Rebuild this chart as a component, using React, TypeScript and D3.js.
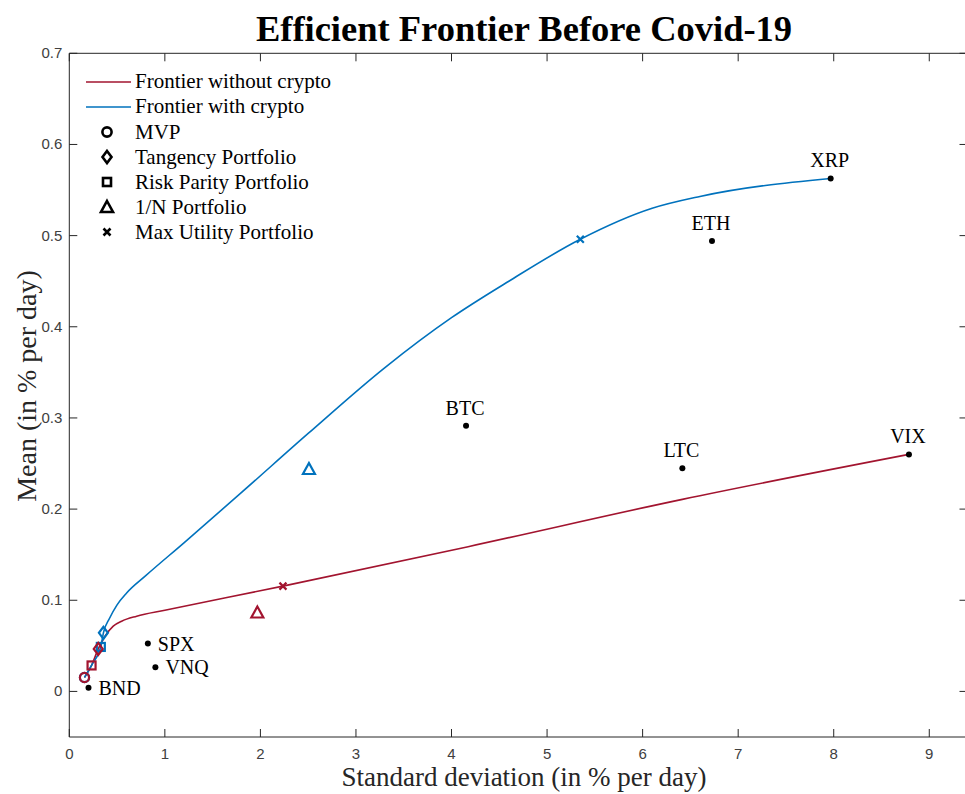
import React from "react";
import * as d3 from "d3";

// asset points (std dev %, mean %)
const assetNames = ["BND", "SPX", "VNQ", "BTC", "LTC", "ETH", "XRP", "VIX"];
const assetSigma = [0.201, 0.822, 0.901, 4.152, 6.416, 6.726, 7.968, 8.787];
const assetMu = [0.004, 0.0525, 0.0265, 0.2915, 0.2447, 0.4942, 0.5627, 0.26];
const assetLabelSide = ["right", "right", "right", "top", "top", "top", "top", "top"];

// frontier without crypto
const redSigma = [0.159, 0.233, 0.303, 0.37, 0.46, 0.548, 0.705, 1.0, 2.236, 4.174, 6.416, 8.787];
const redMu = [0.0153, 0.0285, 0.0466, 0.06, 0.0716, 0.077, 0.0825, 0.089, 0.1155, 0.1588, 0.2107, 0.26];

// frontier with crypto
const blueSigma = [0.159, 0.24, 0.33, 0.357, 0.42, 0.5, 0.6, 0.8, 1.2, 1.8, 2.5, 3.3, 4.0, 4.6, 5.348, 6.1, 6.6, 7.968];
const blueMu = [0.0153, 0.03, 0.0488, 0.0643, 0.08, 0.095, 0.108, 0.127, 0.163, 0.218, 0.283, 0.355, 0.41, 0.45, 0.496, 0.53, 0.543, 0.5627];

// portfolios: mvp, tangency, risk parity, 1/N, max utility
const portfolioKinds = ["circle", "diamond", "square", "triangle", "cross"];
const portfolioLabels = ["MVP", "Tangency Portfolio", "Risk Parity Portfolio", "1/N Portfolio", "Max Utility Portfolio"];
const redPortSigma = [0.159, 0.303, 0.233, 1.968, 2.236];
const redPortMu = [0.0153, 0.0466, 0.0285, 0.0866, 0.1155];
const bluePortSigma = [0.159, 0.357, 0.33, 2.508, 5.348];
const bluePortMu = [0.0153, 0.0643, 0.0488, 0.244, 0.496];

const xTicks = [0, 1, 2, 3, 4, 5, 6, 7, 8, 9];
const yTicks = [0, 0.1, 0.2, 0.3, 0.4, 0.5, 0.6, 0.7];

const RED = "#A2142F";
const BLUE = "#0072BD";
const AXIS = "#262626";
const SERIF = "'Liberation Serif', 'Times New Roman', serif";
const SANS = "'Liberation Sans', Arial, sans-serif";

const W = 965;
const H = 794;
const left = 69.3;
const right = 967.5;
const top = 53.3;
const bottom = 737;

const x = d3.scaleLinear().domain([0, 9.4]).range([left, right]);
const y = d3.scaleLinear().domain([-0.05, 0.7]).range([bottom, top]);

const Marker = ({ kind, cx, cy, color, sw = 2.2 }: { kind: string; cx: number; cy: number; color: string; sw?: number }) => {
  if (kind === "circle") return <circle cx={cx} cy={cy} r={4.6} fill="none" stroke={color} strokeWidth={sw} />;
  if (kind === "diamond")
    return <path d={`M${cx},${cy - 6}L${cx + 4.5},${cy}L${cx},${cy + 6}L${cx - 4.5},${cy}Z`} fill="none" stroke={color} strokeWidth={sw} />;
  if (kind === "square") return <rect x={cx - 4} y={cy - 4} width={8} height={8} fill="none" stroke={color} strokeWidth={sw} />;
  if (kind === "triangle")
    return <path d={`M${cx},${cy - 6}L${cx + 6},${cy + 5}L${cx - 6},${cy + 5}Z`} fill="none" stroke={color} strokeWidth={sw} />;
  return <path d={`M${cx - 3.5},${cy - 3.5}L${cx + 3.5},${cy + 3.5}M${cx - 3.5},${cy + 3.5}L${cx + 3.5},${cy - 3.5}`} stroke={color} strokeWidth={sw} />;
};

export default function App() {
  const redPath = d3
    .line<number>()
    .x((_, i) => x(redSigma[i]))
    .y((_, i) => y(redMu[i]))
    .curve(d3.curveMonotoneX)(redSigma);
  const bluePath = d3
    .line<number>()
    .x((_, i) => x(blueSigma[i]))
    .y((_, i) => y(blueMu[i]))
    .curve(d3.curveMonotoneX)(blueSigma);

  return (
    <svg width={W} height={H} style={{ position: "absolute", left: 0, top: 0, background: "#fff" }}>
      <rect x={0} y={0} width={W} height={H} fill="#fff" />

      {/* axes box */}
      <g stroke={AXIS} strokeWidth={1} fill="none">
        <line x1={left} x2={right} y1={bottom} y2={bottom} />
        <line x1={left} x2={right} y1={top} y2={top} />
        <line x1={left} x2={left} y1={top} y2={bottom} />
        <line x1={right} x2={right} y1={top} y2={bottom} />
        {xTicks.map((t) => (
          <g key={"xt" + t}>
            <line x1={x(t)} x2={x(t)} y1={bottom} y2={bottom - 8} />
            <line x1={x(t)} x2={x(t)} y1={top} y2={top + 8} />
          </g>
        ))}
        {yTicks.map((t) => (
          <g key={"yt" + t}>
            <line x1={left} x2={left + 8} y1={y(t)} y2={y(t)} />
            <line x1={right} x2={right - 8} y1={y(t)} y2={y(t)} />
          </g>
        ))}
      </g>
      {xTicks.map((t) => (
        <text key={"xl" + t} x={x(t)} y={bottom + 22} textAnchor="middle" fontFamily={SANS} fontSize={15} fill="#404040">
          {t}
        </text>
      ))}
      {yTicks.map((t) => (
        <text key={"yl" + t} x={left - 7} y={y(t) + 5} textAnchor="end" fontFamily={SANS} fontSize={15} fill="#404040">
          {t}
        </text>
      ))}

      {/* frontiers */}
      <path d={redPath || ""} fill="none" stroke={RED} strokeWidth={1.6} />
      <path d={bluePath || ""} fill="none" stroke={BLUE} strokeWidth={1.6} />

      {/* portfolios */}
      {portfolioKinds.map((k, i) => (
        <Marker key={"bp" + i} kind={k} cx={x(bluePortSigma[i])} cy={y(bluePortMu[i])} color={BLUE} />
      ))}
      {portfolioKinds.map((k, i) => (
        <Marker key={"rp" + i} kind={k} cx={x(redPortSigma[i])} cy={y(redPortMu[i])} color={RED} />
      ))}

      {/* assets */}
      {assetNames.map((n, i) => {
        const cx = x(assetSigma[i]);
        const cy = y(assetMu[i]);
        const side = assetLabelSide[i];
        return (
          <g key={n}>
            <circle cx={cx} cy={cy} r={3} fill="#000" />
            <text
              x={side === "right" ? cx + 10 : cx - 1}
              y={side === "right" ? cy + 7 : cy - 11}
              textAnchor={side === "right" ? "start" : "middle"}
              fontFamily={SERIF}
              fontSize={20}
              fill="#000"
            >
              {n}
            </text>
          </g>
        );
      })}

      {/* legend */}
      <g fontFamily={SERIF} fontSize={21} fill="#000">
        <line x1={86} x2={131} y1={82} y2={82} stroke={RED} strokeWidth={1.6} />
        <text x={135} y={88}>Frontier without crypto</text>
        <line x1={86} x2={131} y1={107} y2={107} stroke={BLUE} strokeWidth={1.6} />
        <text x={135} y={113}>Frontier with crypto</text>
        {portfolioLabels.map((l, i) => (
          <g key={l}>
            <Marker kind={portfolioKinds[i]} cx={107} cy={132 + i * 25} color="#000" sw={2.6} />
            <text x={135} y={139 + i * 25}>
              {l}
            </text>
          </g>
        ))}
      </g>

      {/* titles */}
      <text x={524} y={41} textAnchor="middle" fontFamily={SERIF} fontWeight="bold" fontSize={36.5} fill="#000">
        Efficient Frontier Before Covid-19
      </text>
      <text x={524} y={786} textAnchor="middle" fontFamily={SERIF} fontSize={27} fill={AXIS}>
        Standard deviation (in % per day)
      </text>
      <text transform={`translate(36,386) rotate(-90)`} textAnchor="middle" fontFamily={SERIF} fontSize={28} fill={AXIS}>
        Mean (in % per day)
      </text>
    </svg>
  );
}
